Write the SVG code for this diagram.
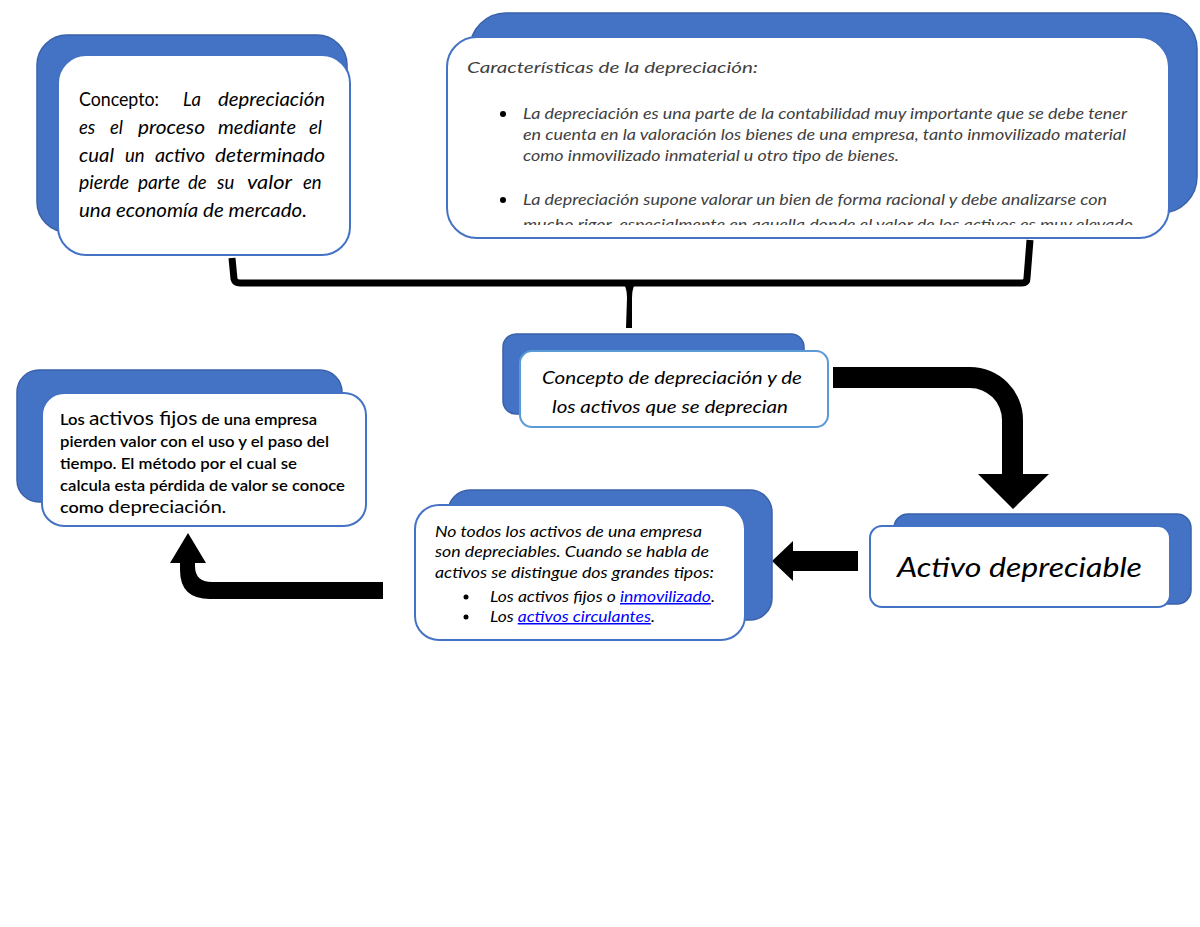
<svg xmlns="http://www.w3.org/2000/svg" width="1200" height="927" viewBox="0 0 1200 927">
<style>
.back{fill:#4472C4;stroke:#3a62a8;stroke-width:1.5}
.front{fill:#ffffff;stroke:#4472C4;stroke-width:2}
.front2{fill:#ffffff;stroke:#5B9BD5;stroke-width:2}
.t{font-family:Lato,"Open Sans","Liberation Sans",sans-serif;fill:#000}
.it{font-style:italic}
.g{fill:#404040}
.lnk{fill:#0000FF;text-decoration:underline}
.arr{fill:#000}
</style>
<defs>
<clipPath id="clip2"><rect x="447" y="37" width="722" height="188"/></clipPath>
</defs>
<rect width="1200" height="927" fill="#ffffff"/>

<g id="connectors">
  <path d="M232,258 L234,279 Q235,283 240,283 L1022,283 Q1027,283 1027,278 L1030,240" fill="none" stroke="#000" stroke-width="7" stroke-linejoin="round"/>
  <path d="M620,281 Q627,284 627,298 L626,328 L632,328 L632,298 Q632,284 639,281 Z" class="arr"/>
  <path d="M833,367 L970,367 A53,53 0 0 1 1023,420 L1023,474 L1049,474 L1013,509 L978,474 L1002,474 L1002,420 A32,32 0 0 0 970,388 L833,388 Z" class="arr"/>
  <path d="M858,551 L793,551 L793,541 L772,561 L793,581 L793,571 L858,571 Z" class="arr"/>
  <path d="M383,582 L212,582 Q195,582 195,566 L195,563 L206,563 L188,533 L170,563 L180,563 L180,570 Q180,599 210,599 L383,599 Z" class="arr"/>
</g>

<g id="node-concepto">
  <rect class="back" x="37" y="35" width="310" height="197" rx="30"/>
  <rect class="front" x="58" y="55" width="292" height="200" rx="28"/>
  <g class="t" font-size="18.5">
    <text x="79" y="106" textLength="80" lengthAdjust="spacingAndGlyphs">Concepto:</text>
    <text class="it" x="183" y="106">La</text>
    <text class="it" x="218" y="106" textLength="107" lengthAdjust="spacingAndGlyphs">depreciación</text>
    <text class="it" x="79" y="134">es</text>
    <text class="it" x="110" y="134">el</text>
    <text class="it" x="138" y="134" textLength="67" lengthAdjust="spacingAndGlyphs">proceso</text>
    <text class="it" x="218" y="134" textLength="78" lengthAdjust="spacingAndGlyphs">mediante</text>
    <text class="it" x="309" y="134">el</text>
    <text class="it" x="79" y="162" textLength="35" lengthAdjust="spacingAndGlyphs">cual</text>
    <text class="it" x="125" y="162">un</text>
    <text class="it" x="155" y="162" textLength="50" lengthAdjust="spacingAndGlyphs">activo</text>
    <text class="it" x="215" y="162" textLength="110" lengthAdjust="spacingAndGlyphs">determinado</text>
    <text class="it" x="79" y="189" textLength="50" lengthAdjust="spacingAndGlyphs">pierde</text>
    <text class="it" x="138" y="189" textLength="42" lengthAdjust="spacingAndGlyphs">parte</text>
    <text class="it" x="188" y="189">de</text>
    <text class="it" x="217" y="189">su</text>
    <text class="it" x="247" y="189" textLength="45" lengthAdjust="spacingAndGlyphs">valor</text>
    <text class="it" x="303" y="189">en</text>
    <text class="it" x="79" y="217" textLength="228" lengthAdjust="spacingAndGlyphs">una economía de mercado.</text>
  </g>
</g>

<g id="node-caracteristicas">
  <rect class="back" x="470" y="13" width="727" height="200" rx="36"/>
  <rect class="front" x="447" y="37" width="722" height="201" rx="30"/>
  <g class="t it g" font-size="15" clip-path="url(#clip2)">
    <text x="467" y="73" textLength="291" lengthAdjust="spacingAndGlyphs">Características de la depreciación:</text>
    <circle cx="503" cy="114" r="3" fill="#000"/>
    <text x="523" y="119" textLength="604" lengthAdjust="spacingAndGlyphs">La depreciación es una parte de la contabilidad muy importante que se debe tener</text>
    <text x="523" y="140" textLength="603" lengthAdjust="spacingAndGlyphs">en cuenta en la valoración los bienes de una empresa, tanto inmovilizado material</text>
    <text x="523" y="161" textLength="376" lengthAdjust="spacingAndGlyphs">como inmovilizado inmaterial u otro tipo de bienes.</text>
    <circle cx="503" cy="200" r="3" fill="#000"/>
    <text x="523" y="205" textLength="584" lengthAdjust="spacingAndGlyphs">La depreciación supone valorar un bien de forma racional y debe analizarse con</text>
    <text x="523" y="230" textLength="610" lengthAdjust="spacingAndGlyphs">mucho rigor, especialmente en aquella donde el valor de los activos es muy elevado</text>
  </g>
</g>

<g id="node-central">
  <rect class="back" x="503" y="334" width="301" height="80" rx="13"/>
  <rect class="front2" x="520" y="351" width="308" height="76" rx="12"/>
  <g class="t it" font-size="18">
    <text x="542" y="384" textLength="260" lengthAdjust="spacingAndGlyphs">Concepto de depreciación y de</text>
    <text x="552" y="413" textLength="236" lengthAdjust="spacingAndGlyphs">los activos que se deprecian</text>
  </g>
</g>

<g id="node-activos-fijos">
  <rect class="back" x="17" y="370" width="325" height="132" rx="22"/>
  <rect class="front" x="42" y="393" width="324" height="133" rx="22"/>
  <g class="t" font-size="15" font-weight="600">
    <text x="60" y="425" textLength="257" lengthAdjust="spacingAndGlyphs">Los <tspan font-size="19" font-weight="400">activos fijos</tspan> de una empresa</text>
    <text x="60" y="447" textLength="269" lengthAdjust="spacingAndGlyphs">pierden valor con el uso y el paso del</text>
    <text x="60" y="469" textLength="237" lengthAdjust="spacingAndGlyphs">tiempo. El método por el cual se</text>
    <text x="60" y="491" textLength="285" lengthAdjust="spacingAndGlyphs">calcula esta pérdida de valor se conoce</text>
    <text x="60" y="513" textLength="166" lengthAdjust="spacingAndGlyphs">como <tspan font-size="17" font-weight="400">depreciación</tspan>.</text>
  </g>
</g>

<g id="node-no-todos">
  <rect class="back" x="448" y="490" width="324" height="130" rx="22"/>
  <rect class="front" x="415" y="505" width="330" height="135" rx="24"/>
  <g class="t it" font-size="15">
    <text x="435" y="537" textLength="267" lengthAdjust="spacingAndGlyphs">No todos los activos de una empresa</text>
    <text x="435" y="557" textLength="274" lengthAdjust="spacingAndGlyphs">son depreciables. Cuando se habla de</text>
    <text x="435" y="578" textLength="279" lengthAdjust="spacingAndGlyphs">activos se distingue dos grandes tipos:</text>
    <circle cx="466" cy="597" r="2.5" fill="#000"/>
    <text x="490" y="602" textLength="225" lengthAdjust="spacingAndGlyphs">Los activos fijos o <tspan class="lnk">inmovilizado</tspan>.</text>
    <circle cx="466" cy="617" r="2.5" fill="#000"/>
    <text x="490" y="622" textLength="165" lengthAdjust="spacingAndGlyphs">Los <tspan class="lnk">activos circulantes</tspan>.</text>
  </g>
</g>

<g id="node-activo-depreciable">
  <rect class="back" x="894" y="514" width="297" height="90" rx="14"/>
  <rect class="front" x="870" y="526" width="300" height="81" rx="12"/>
  <text class="t it" x="897" y="577" font-size="27" textLength="245" lengthAdjust="spacingAndGlyphs">Activo depreciable</text>
</g>
</svg>
